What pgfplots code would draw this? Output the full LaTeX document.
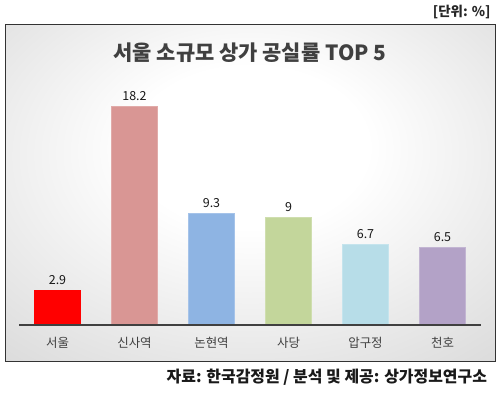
\documentclass[border=0pt]{standalone}
\usepackage{pgfplots}
\pgfplotsset{compat=1.18}
\usepackage{fontspec}
\setmainfont{Noto Sans CJK KR}
\definecolor{c1}{HTML}{FF0000}
\definecolor{c2}{HTML}{D99694}
\definecolor{c3}{HTML}{8EB4E3}
\definecolor{c4}{HTML}{C3D69B}
\definecolor{c5}{HTML}{B7DDE8}
\definecolor{c6}{HTML}{B3A2C7}
\pgfdeclareradialshading{bgshade}{\pgfpoint{0bp}{8bp}}{color(0bp)=(white); color(12bp)=(white); color(50bp)=(black!20); color(75bp)=(black!27)}
\begin{document}
\begin{tikzpicture}[x=1bp,y=1bp]
\path (-19,-68) rectangle (481,325);
\shade[shading=bgshade] (-14,-36) rectangle (476,301);
\draw[black!80, line width=0.8bp] (-14,-36) rectangle (476,301);
\node[anchor=east, font=\bfseries\fontsize{13.5}{16}\selectfont, text=black!85] at (475,313) {[단위: \%]};
\node[font=\bfseries\fontsize{21}{25}\selectfont, text=black!75] at (231,272) {서울 소규모 상가 공실률 TOP 5};
\node[anchor=east, font=\bfseries\fontsize{16}{18}\selectfont, text=black!90] at (471.5,-52) {자료: 한국감정원 / 분석 및 제공: 상가정보연구소};
\begin{axis}[
  at={(0,0)}, anchor=south west,
  scale only axis, width=462bp, height=295bp,
  xmin=-0.5, xmax=5.5, ymin=0, ymax=24.58,
  axis x line*=bottom, axis y line=none,
  x axis line style={draw=none},
  xtick={0,1,2,3,4,5},
  xticklabels={서울,신사역,논현역,사당,압구정,천호},
  major tick length=0pt,
  xticklabel style={font=\fontsize{12.5}{14}\selectfont, text=black!75, yshift=-9bp},
  ybar, bar width=46bp, bar shift=0pt,
  nodes near coords,
  every node near coord/.append style={font=\fontsize{12.5}{14}\selectfont, text=black!90, yshift=2bp},
  /pgf/number format/assume math mode=true,
  clip=false,
]
\addplot[fill=c1, draw=c1] coordinates {(0,2.9)};
\addplot[fill=c2, draw=c2!80!white] coordinates {(1,18.2)};
\addplot[fill=c3, draw=c3!80!white] coordinates {(2,9.3)};
\addplot[fill=c4, draw=c4!80!white] coordinates {(3,9)};
\addplot[fill=c5, draw=c5!80!white] coordinates {(4,6.7)};
\addplot[fill=c6, draw=c6!80!white] coordinates {(5,6.5)};
\draw[black!75, line width=1.5bp] (axis cs:-0.5,0) -- (axis cs:5.5,0);
\end{axis}
\end{tikzpicture}
\end{document}
